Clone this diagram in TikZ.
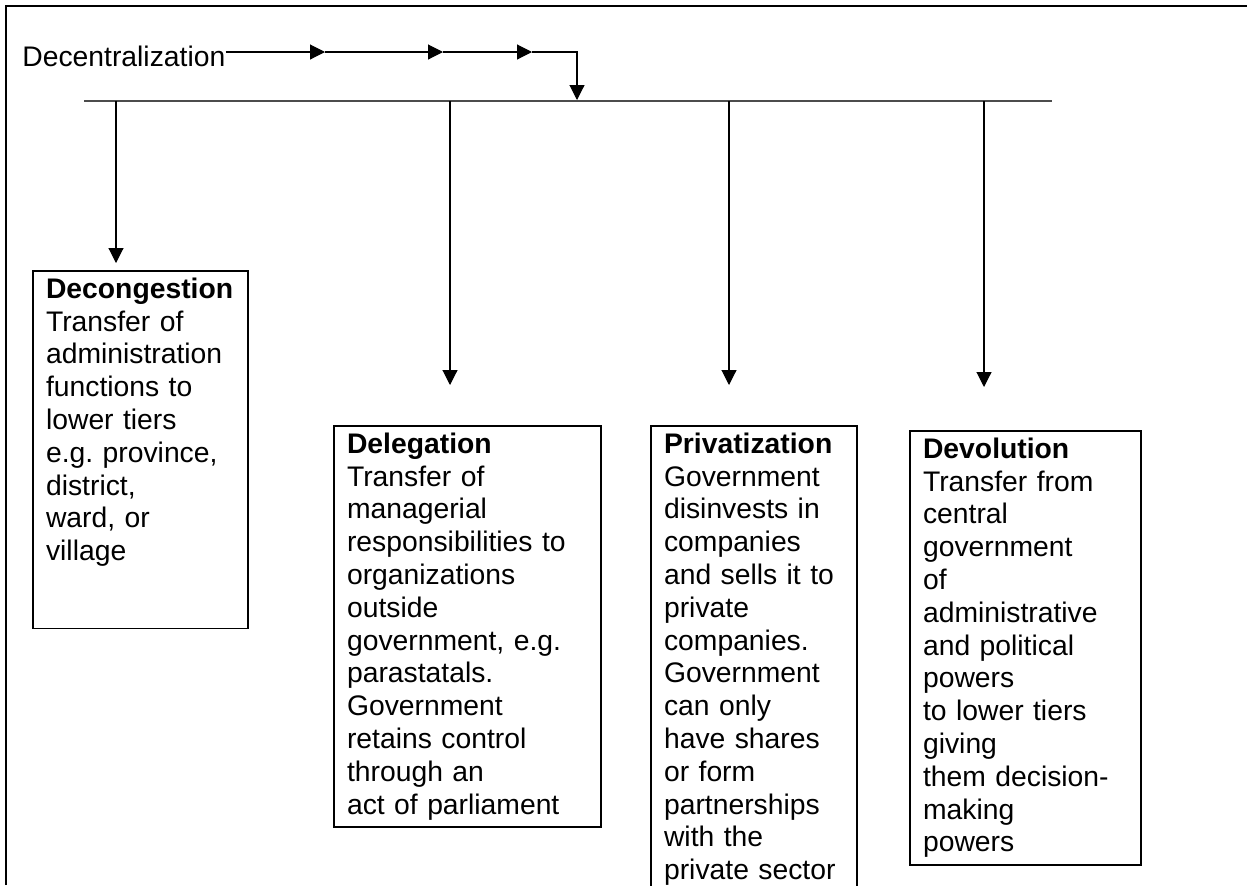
\documentclass[tikz,border=0pt]{standalone}
\usepackage{fontspec}
\setmainfont{Liberation Sans}
\usetikzlibrary{arrows.meta,positioning}
\frenchspacing
\tikzset{
  kind/.style={draw, line width=0.85pt, anchor=north west, align=left,
               inner xsep=6.6pt, inner ysep=3.5pt,
               font=\fontsize{14.15pt}{16.4pt}\selectfont},
  flow/.style={-{Triangle[length=7.5pt,width=7.5pt]}, line width=0.55pt},
  bus/.style={draw=black!70, line width=0.6pt},
}

\begin{document}
\begin{tikzpicture}[x=0.5pt, y=-0.5pt]
\clip (0,0) rectangle (1247,885);
\draw[line width=1.2pt] (6,885) -- (6,6) -- (1247,6);

\node[anchor=base west, inner sep=0pt,
      font=\fontsize{14.15pt}{16.4pt}\selectfont] (head) at (22,66)
  {Decentralization};

\coordinate (a1) at (325,52);
\coordinate (a2) at (443,52);
\coordinate (a3) at (532,52);
\coordinate (drop) at (577,100);
\draw[flow] (head.east |- a1) -- (a1);
\draw[flow] (a1) -- (a2);
\draw[flow] (a2) -- (a3);
\draw[flow] (a3) -| (drop);

\coordinate (busw) at (84,101);
\coordinate (buse) at (1052,101);
\draw[bus] (busw) -- (buse);

\coordinate (t1) at (116,263);
\coordinate (t2) at (450,385);
\coordinate (t3) at (729,385);
\coordinate (t4) at (984,387);
\foreach \t in {t1,t2,t3,t4} {
  \draw[flow] (\t |- busw) -- (\t);
}

\node[kind, text width=94.5pt, text depth=161.5pt] (deco) at (32,270)
  {\textbf{Decongestion}\\ Transfer of\\ administration\\ functions to\\
   lower tiers\\ e.g. province,\\ district,\\ ward, or\\ village};

\node[kind, text width=120.5pt] (dele) at (333,425)
  {\textbf{Delegation}\\ Transfer of\\ managerial\\ responsibilities to\\
   organizations\\ outside\\ government, e.g.\\ parastatals.\\ Government\\
   retains control\\ through an\\ act of parliament};

\node[kind, text width=90pt] (priv) at (650,425)
  {\textbf{Privatization}\\ Government\\ disinvests in\\ companies\\
   and sells it to\\ private\\ companies.\\ Government\\ can only\\
   have shares\\ or form\\ partnerships\\ with the\\ private sector};

\node[kind, text width=102.5pt] (devo) at (909,430)
  {\textbf{Devolution}\\ Transfer from\\ central\\ government\\ of\\
   administrative\\ and political\\ powers\\ to lower tiers\\ giving\\
   them decision-\\ making\\ powers};

\end{tikzpicture}
\end{document}
